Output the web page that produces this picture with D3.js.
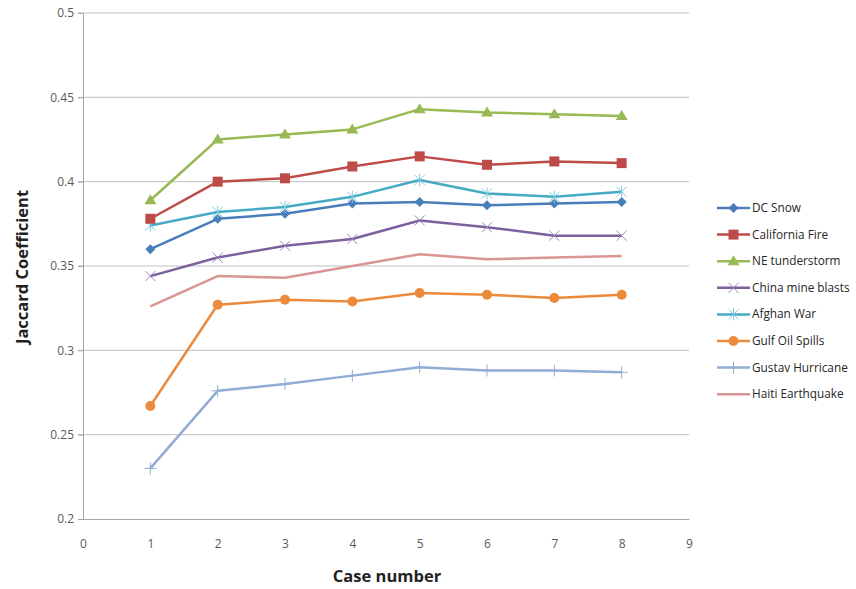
<!DOCTYPE html>
<html><head><meta charset="utf-8">
<script src="https://cdn.jsdelivr.net/npm/d3@7"></script>
<style>body{margin:0;background:#fff;} text{font-family:"Open Sans","DejaVu Sans",sans-serif;}</style>
</head><body>
<svg id="c" width="856" height="589"></svg>
<script>
const cases = [1,2,3,4,5,6,7,8];
const seriesNames = ["DC Snow","California Fire","NE tunderstorm","China mine blasts","Afghan War","Gulf Oil Spills","Gustav Hurricane","Haiti Earthquake"];
const dcSnow     = [0.360,0.378,0.381,0.387,0.388,0.386,0.387,0.388];
const caFire     = [0.378,0.400,0.402,0.409,0.415,0.410,0.412,0.411];
const neStorm    = [0.389,0.425,0.428,0.431,0.443,0.441,0.440,0.439];
const chinaMine  = [0.344,0.355,0.362,0.366,0.377,0.373,0.368,0.368];
const afghanWar  = [0.374,0.382,0.385,0.391,0.401,0.393,0.391,0.394];
const gulfOil    = [0.267,0.327,0.330,0.329,0.334,0.333,0.331,0.333];
const gustav     = [0.230,0.276,0.280,0.285,0.290,0.288,0.288,0.287];
const haiti      = [0.326,0.344,0.343,0.350,0.357,0.354,0.355,0.356];
const xTicks = [0,1,2,3,4,5,6,7,8,9];
const yTicks = [0.2,0.25,0.3,0.35,0.4,0.45,0.5];

const values = [dcSnow,caFire,neStorm,chinaMine,afghanWar,gulfOil,gustav,haiti];
const colors = ["#4A7EBB","#BE4B48","#98B954","#7D60A0","#46AAC5","#EC8A3C","#92ADD5","#DA9694"];
const markers = ["diamond","square","triangle","x","asterisk","circle","plus","none"];

const svg = d3.select("#c");
const L=83,R=689,T=13,B=519;
const x = d3.scaleLinear().domain([0,9]).range([L,R]);
const y = d3.scaleLinear().domain([0.2,0.5]).range([B,T]);

// gridlines
svg.append("g").selectAll("line").data(yTicks.slice(1)).join("line")
  .attr("x1",L-5).attr("x2",R).attr("y1",d=>y(d)).attr("y2",d=>y(d))
  .attr("stroke","#BFBFBF").attr("stroke-width",1);

// axes
const yAxis = svg.append("g").attr("transform",`translate(${L},0)`)
  .call(d3.axisLeft(y).tickValues(yTicks).tickSize(5).tickPadding(4).tickFormat(d=>String(+d.toFixed(2))));
const xAxis = svg.append("g").attr("transform",`translate(0,${B})`)
  .call(d3.axisBottom(x).tickValues(xTicks).tickSize(0).tickPadding(20).tickFormat(d3.format("d")));
[yAxis,xAxis].forEach(a=>{
  a.select(".domain").attr("stroke","#A6A6A6");
  a.selectAll(".tick line").attr("stroke","#A6A6A6");
  a.selectAll("text").attr("fill","#595959").style("font-size","12px");
});

// axis titles
svg.append("text").attr("x",387).attr("y",582).attr("text-anchor","middle")
  .style("font-size","16.5px").style("font-weight","bold").attr("fill","#222").text("Case number");
svg.append("text").attr("transform","translate(28,267) rotate(-90)").attr("text-anchor","middle")
  .style("font-size","16.5px").style("font-weight","bold").attr("fill","#222").text("Jaccard Coefficient");

function drawMarker(g, type, color, cx, cy){
  if(type==="diamond") g.append("path").attr("d",`M${cx},${cy-5}L${cx+5},${cy}L${cx},${cy+5}L${cx-5},${cy}Z`).attr("fill",color);
  else if(type==="square") g.append("rect").attr("x",cx-5).attr("y",cy-5).attr("width",10).attr("height",10).attr("fill",color);
  else if(type==="triangle") g.append("path").attr("d",`M${cx},${cy-6}L${cx+6},${cy+4}L${cx-6},${cy+4}Z`).attr("fill",color);
  else if(type==="circle") g.append("circle").attr("cx",cx).attr("cy",cy).attr("r",5).attr("fill",color);
  else if(type==="x") g.append("path").attr("d",`M${cx-5},${cy-5}L${cx+5},${cy+5}M${cx-5},${cy+5}L${cx+5},${cy-5}`).attr("stroke","#9A8AB8").attr("stroke-width",1).attr("fill","none");
  else if(type==="asterisk") g.append("path").attr("d",`M${cx-5},${cy-5}L${cx+5},${cy+5}M${cx-5},${cy+5}L${cx+5},${cy-5}M${cx},${cy-6}L${cx},${cy+6}`).attr("stroke","#7DCBDD").attr("stroke-width",1).attr("fill","none");
  else if(type==="plus") g.append("path").attr("d",`M${cx-6},${cy}L${cx+6},${cy}M${cx},${cy-6}L${cx},${cy+6}`).attr("stroke",color).attr("stroke-width",1).attr("fill","none");
}

const line = d3.line().x((d,i)=>x(cases[i])).y(d=>y(d));
const order = [7,6,5,3,0,4,1,2];
order.forEach(si=>{
  const g = svg.append("g");
  g.append("path").datum(values[si]).attr("d",line).attr("fill","none")
    .attr("stroke",colors[si]).attr("stroke-width",2.5).attr("stroke-linejoin","round");
  values[si].forEach((v,i)=>drawMarker(g,markers[si],colors[si],x(cases[i]),y(v)));
});

// legend
const lg = svg.append("g");
seriesNames.forEach((n,i)=>{
  const ly = 208 + i*26.6;
  lg.append("line").attr("x1",717).attr("x2",750).attr("y1",ly).attr("y2",ly).attr("stroke",colors[i]).attr("stroke-width",2.5);
  drawMarker(lg,markers[i],colors[i],733.5,ly);
  lg.append("text").attr("x",752).attr("y",ly+4).style("font-size","11.8px").attr("fill","#262626").text(n);
});
</script>
</body></html>
